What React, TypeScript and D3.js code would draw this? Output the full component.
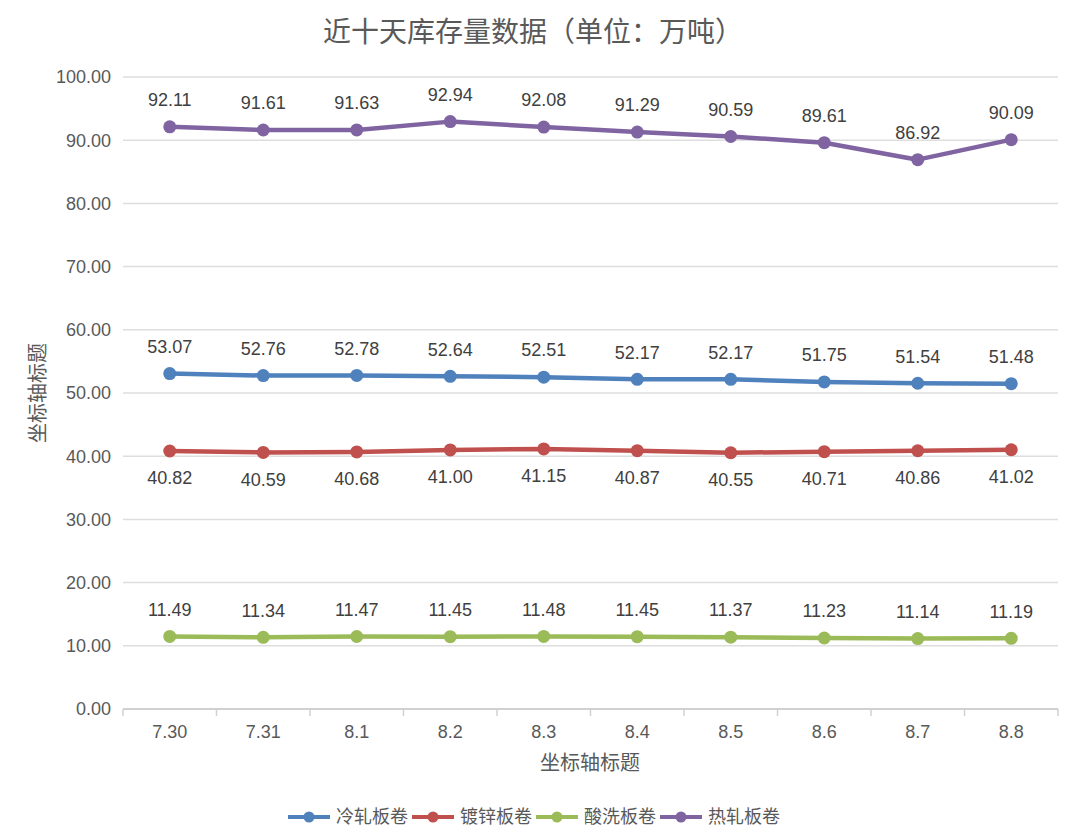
import React, { useMemo } from 'react';
import * as d3 from 'd3';

const categories = ['7.30', '7.31', '8.1', '8.2', '8.3', '8.4', '8.5', '8.6', '8.7', '8.8'];
const coldRolled = [53.07, 52.76, 52.78, 52.64, 52.51, 52.17, 52.17, 51.75, 51.54, 51.48];
const galvanized = [40.82, 40.59, 40.68, 41.0, 41.15, 40.87, 40.55, 40.71, 40.86, 41.02];
const pickled = [11.49, 11.34, 11.47, 11.45, 11.48, 11.45, 11.37, 11.23, 11.14, 11.19];
const hotRolled = [92.11, 91.61, 91.63, 92.94, 92.08, 91.29, 90.59, 89.61, 86.92, 90.09];
const yTicks = [0, 10, 20, 30, 40, 50, 60, 70, 80, 90, 100];

const series = [
  { name: '冷轧板卷', values: coldRolled, color: '#4f81bd', labelBelow: false },
  { name: '镀锌板卷', values: galvanized, color: '#c0504d', labelBelow: true },
  { name: '酸洗板卷', values: pickled, color: '#9bbb59', labelBelow: false },
  { name: '热轧板卷', values: hotRolled, color: '#8064a2', labelBelow: false },
];

const width = 1080;
const height = 840;
const margin = { top: 77, right: 22, bottom: 131, left: 123 };
const cjk = '"Noto Sans CJK SC", sans-serif';
const latin = '"Liberation Sans", Arial, sans-serif';

export default function App() {
  const x = useMemo(
    () => d3.scaleBand<string>().domain(categories).range([margin.left, width - margin.right]),
    []
  );
  const y = useMemo(
    () => d3.scaleLinear().domain([0, 100]).range([height - margin.bottom, margin.top]),
    []
  );
  const cx = (c: string) => (x(c) ?? 0) + x.bandwidth() / 2;

  const line = d3
    .line<number>()
    .x((_, i) => cx(categories[i]))
    .y(d => y(d));

  const x0 = margin.left;
  const x1 = width - margin.right;
  const baseY = y(0);

  const legendItem = 124;
  const legendStart = width / 2 - 4 - (legendItem * series.length) / 2;

  return (
    <div style={{ position: 'fixed', left: 0, top: 0 }}>
      <svg width={width} height={height} style={{ background: '#fff', display: 'block' }}>
        <text x={533} y={42} textAnchor="middle" fontFamily={cjk} fontSize={28} fill="#595959">
          近十天库存量数据（单位：万吨）
        </text>

        {/* grid */}
        {yTicks.map(t => (
          <g key={t}>
            <line x1={x0} x2={x1} y1={y(t)} y2={y(t)} stroke={t === 0 ? '#d0d0d0' : '#dedede'} strokeWidth={t === 0 ? 2 : 1.5} />
            <text x={111} y={y(t)} dy="0.35em" textAnchor="end" fontFamily={latin} fontSize={18} fill="#595959">
              {t.toFixed(2)}
            </text>
          </g>
        ))}

        {/* x ticks */}
        {categories.map((c, i) => (
          <g key={c}>
            <line x1={x(c)} x2={x(c)} y1={baseY} y2={baseY + 7} stroke="#d0d0d0" strokeWidth={1.5} />
            {i === categories.length - 1 && (
              <line x1={x1} x2={x1} y1={baseY} y2={baseY + 7} stroke="#d0d0d0" strokeWidth={1.5} />
            )}
            <text x={cx(c)} y={baseY + 23} dy="0.35em" textAnchor="middle" fontFamily={latin} fontSize={18} fill="#595959">
              {c}
            </text>
          </g>
        ))}

        {/* axis titles */}
        <text x={590} y={763} dy="0.35em" textAnchor="middle" fontFamily={cjk} fontSize={20} fill="#595959">
          坐标轴标题
        </text>
        <text
          transform={`translate(38,${(y(0) + y(100)) / 2}) rotate(-90)`}
          dy="0.35em"
          textAnchor="middle"
          fontFamily={cjk}
          fontSize={20}
          fill="#595959"
        >
          坐标轴标题
        </text>

        {/* series */}
        {series.map(s => (
          <g key={s.name}>
            <path d={line(s.values) || ''} fill="none" stroke={s.color} strokeWidth={4.5} strokeLinejoin="round" />
            {s.values.map((v, i) => (
              <circle key={i} cx={cx(categories[i])} cy={y(v)} r={6.5} fill={s.color} />
            ))}
            {s.values.map((v, i) => (
              <text
                key={`l${i}`}
                x={cx(categories[i])}
                y={y(v) + (s.labelBelow ? 27 : -27)}
                dy="0.35em"
                textAnchor="middle"
                fontFamily={latin}
                fontSize={18}
                fill="#404040"
              >
                {v.toFixed(2)}
              </text>
            ))}
          </g>
        ))}

        {/* legend */}
        {series.map((s, i) => {
          const lx = legendStart + i * legendItem;
          return (
            <g key={`lg${s.name}`}>
              <line x1={lx} x2={lx + 42} y1={817} y2={817} stroke={s.color} strokeWidth={4} />
              <circle cx={lx + 21} cy={817} r={5.5} fill={s.color} />
              <text x={lx + 48} y={817} dy="0.35em" fontFamily={cjk} fontSize={18} fill="#595959">
                {s.name}
              </text>
            </g>
          );
        })}
      </svg>
    </div>
  );
}
